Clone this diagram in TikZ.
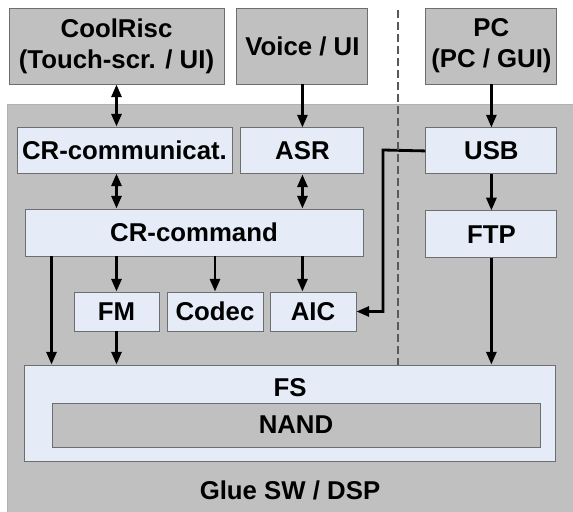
\documentclass[tikz,border=0pt]{standalone}
\usepackage{fontspec}
\setmainfont{Liberation Sans}
\usetikzlibrary{arrows.meta, positioning}
\definecolor{hostgray}{RGB}{192,192,192}
\definecolor{blockblue}{RGB}{229,236,247}
\definecolor{edgegray}{RGB}{110,110,110}
\tikzset{
    host/.style={
        rectangle, draw=edgegray, line width=0.8pt,
        minimum height=2.28cm, inner sep=0pt, align=center,
        fill=hostgray, font=\fontsize{22}{26.5}\selectfont\bfseries
    },
    block/.style={
        rectangle, draw=edgegray, line width=0.8pt,
        minimum height=1.38cm, inner sep=0pt,
        fill=blockblue, font=\fontsize{22}{26.5}\selectfont\bfseries
    },
    caption/.style={font=\fontsize{22}{26.5}\selectfont\bfseries, inner sep=0pt},
    wire/.style={draw=black, line width=2.4pt, -{Triangle[length=0.38cm, width=0.3cm]}},
    duplex/.style={wire, {Triangle[length=0.38cm, width=0.3cm]}-{Triangle[length=0.38cm, width=0.3cm]}},
    divider/.style={draw=black!65, line width=1pt, dash pattern=on 0.24cm off 0.12cm}
}

\begin{document}
\begin{tikzpicture}[x=0.03cm, y=-0.03cm]
\useasboundingbox (0,0) rectangle (573,511);

% DSP area
\node[rectangle, draw=black!30, fill=hostgray, anchor=north west, inner sep=0pt,
      minimum width=17.04cm, minimum height=12.27cm] (dsp) at (7,104) {};
\node[caption] (glue) at (290,490) {Glue SW / DSP};

% External hosts
\node[host, minimum width=6.45cm] (cool) at (116.5,46) {CoolRisc\\(Touch-scr. / UI)};
\node[host, minimum width=3.93cm, right=0.36cm of cool] (voice) {Voice / UI};
\node[host, minimum width=3.93cm, right=1.71cm of voice] (pc) {PC\\(PC / GUI)};

% Interface blocks
\node[block, minimum width=6.45cm] (crcom) at (124.5,150) {CR-communicat.};
\node[block, minimum width=3.69cm, below=1.29cm of voice] (asr) {ASR};
\node[block, minimum width=3.93cm, below=1.29cm of pc] (usb) {USB};
\node[block, minimum width=10.14cm, minimum height=1.41cm] (crcmd) at (194,232.5) {CR-command};
\node[block, minimum width=3.93cm, minimum height=1.41cm, below=1.08cm of usb] (ftp) {FTP};

% Sub-blocks
\node[block, minimum width=2.55cm, minimum height=1.17cm] (fm) at (116.5,311.5) {FM};
\node[block, minimum width=2.88cm, minimum height=1.17cm] (codec) at (215,311.5) {Codec};
\node[block, minimum width=2.58cm, minimum height=1.17cm] (aic) at (313,311.5) {AIC};

% File system
\node[block, minimum width=15.93cm, minimum height=2.88cm] (fs) at (290.25,413) {};
\node[caption] (fslbl) at (290,388) {FS};
\node[host, minimum width=14.64cm, minimum height=1.32cm] (nand) at (296,425) {NAND};

% Connections
\draw[duplex] (cool.south) -- (cool.south |- crcom.north);
\draw[duplex] (cool.south |- crcom.south) -- (cool.south |- crcmd.north);
\draw[wire] (voice) -- (asr);
\draw[duplex] (asr) -- (asr |- crcmd.north);
\draw[wire] (pc) -- (usb);
\draw[wire] (usb) -- (ftp);
\draw[wire] (ftp) -- (ftp |- fs.north);
\draw[wire] (fm |- crcmd.south) -- (fm);
\draw[wire] (fm) -- (fm |- fs.north);
\draw[wire] (codec |- crcmd.south) -- (codec);
\draw[wire] (asr |- crcmd.south) -- (asr |- aic.north);
\draw[wire] (nand.west |- crcmd.south) -- (nand.west |- fs.north);
\coordinate (jog) at (383,150);
\draw[wire] (usb.west) -- (jog) |- (aic.east);

% Divider
\coordinate (divtop) at (398,10);
\draw[divider] (divtop) -- (divtop |- fs.north);

\end{tikzpicture}
\end{document}
